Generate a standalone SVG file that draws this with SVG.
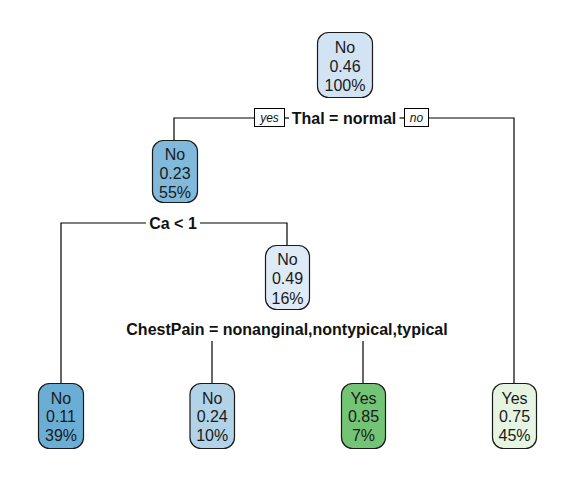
<svg xmlns="http://www.w3.org/2000/svg" width="576" height="480" viewBox="0 0 576 480">
<style>
.node rect{stroke:#1a1a1a;stroke-width:1.2}
.node text{font-family:"Liberation Sans",Arial,sans-serif;font-size:16px;fill:#1a1a1a;text-anchor:middle}
.split{font-family:"Liberation Sans",Arial,sans-serif;font-size:16px;font-weight:bold;fill:#111;text-anchor:middle}
.lbl{font-family:"Liberation Sans",Arial,sans-serif;font-size:12px;font-style:italic;fill:#111;text-anchor:middle}
.conn line,.conn polyline{stroke:#000;stroke-width:1.2;fill:none}
.lbox{fill:#fff;stroke:#000;stroke-width:1}
</style>
<rect width="576" height="480" fill="#fff"/>
<g id="connectors" class="conn">
<polyline points="174,140 174,118 254,118"/>
<line x1="285" y1="118" x2="289" y2="118"/>
<line x1="399.5" y1="118" x2="404" y2="118"/>
<polyline points="428,118 514,118 514,383"/>
<polyline points="61,383 61,223 146,223"/>
<polyline points="200,223 287,223 287,245"/>
<line x1="212" y1="341" x2="212" y2="383"/>
<line x1="363" y1="341" x2="363" y2="383"/>
</g>
<g id="split-labels">
<rect class="lbox" x="254.5" y="108.5" width="30" height="18"/>
<text class="lbl" x="269.5" y="122">yes</text>
<text class="split" x="344" y="123.5">Thal = normal</text>
<rect class="lbox" x="404.5" y="108.5" width="24" height="18"/>
<text class="lbl" x="416.5" y="122">no</text>
<text class="split" x="173" y="228.5">Ca &lt; 1</text>
<text class="split" x="287" y="334.5">ChestPain = nonanginal,nontypical,typical</text>
</g>
<g id="node1" class="node">
<rect x="317.5" y="32.5" width="55" height="65" rx="11" fill="#D2E3F3"/>
<text x="345" y="53">No</text><text x="345" y="72">0.46</text><text x="345" y="91">100%</text>
</g>
<g id="node2" class="node">
<rect x="152.5" y="140.5" width="45" height="62" rx="11" fill="#80B9DA"/>
<text x="175" y="160">No</text><text x="175" y="179">0.23</text><text x="175" y="198">55%</text>
</g>
<g id="node3" class="node">
<rect x="265.5" y="245.5" width="44" height="64" rx="11" fill="#DEEBF7"/>
<text x="287.5" y="265">No</text><text x="287.5" y="284">0.49</text><text x="287.5" y="303.5">16%</text>
</g>
<g id="leaf1" class="node">
<rect x="38.5" y="383.5" width="45" height="65" rx="11" fill="#6AAED6"/>
<text x="61" y="403.5">No</text><text x="61" y="422">0.11</text><text x="61" y="441">39%</text>
</g>
<g id="leaf2" class="node">
<rect x="190" y="383.5" width="44.5" height="65" rx="11" fill="#B2D2E8"/>
<text x="212.2" y="403.5">No</text><text x="212.2" y="422">0.24</text><text x="212.2" y="441">10%</text>
</g>
<g id="leaf3" class="node">
<rect x="341.5" y="383.5" width="44" height="65" rx="11" fill="#74C476"/>
<text x="363.5" y="403.5">Yes</text><text x="363.5" y="422">0.85</text><text x="363.5" y="441">7%</text>
</g>
<g id="leaf4" class="node">
<rect x="492.5" y="383.5" width="44" height="65" rx="11" fill="#E6F5E1"/>
<text x="514.5" y="403.5">Yes</text><text x="514.5" y="422">0.75</text><text x="514.5" y="441">45%</text>
</g>
</svg>
